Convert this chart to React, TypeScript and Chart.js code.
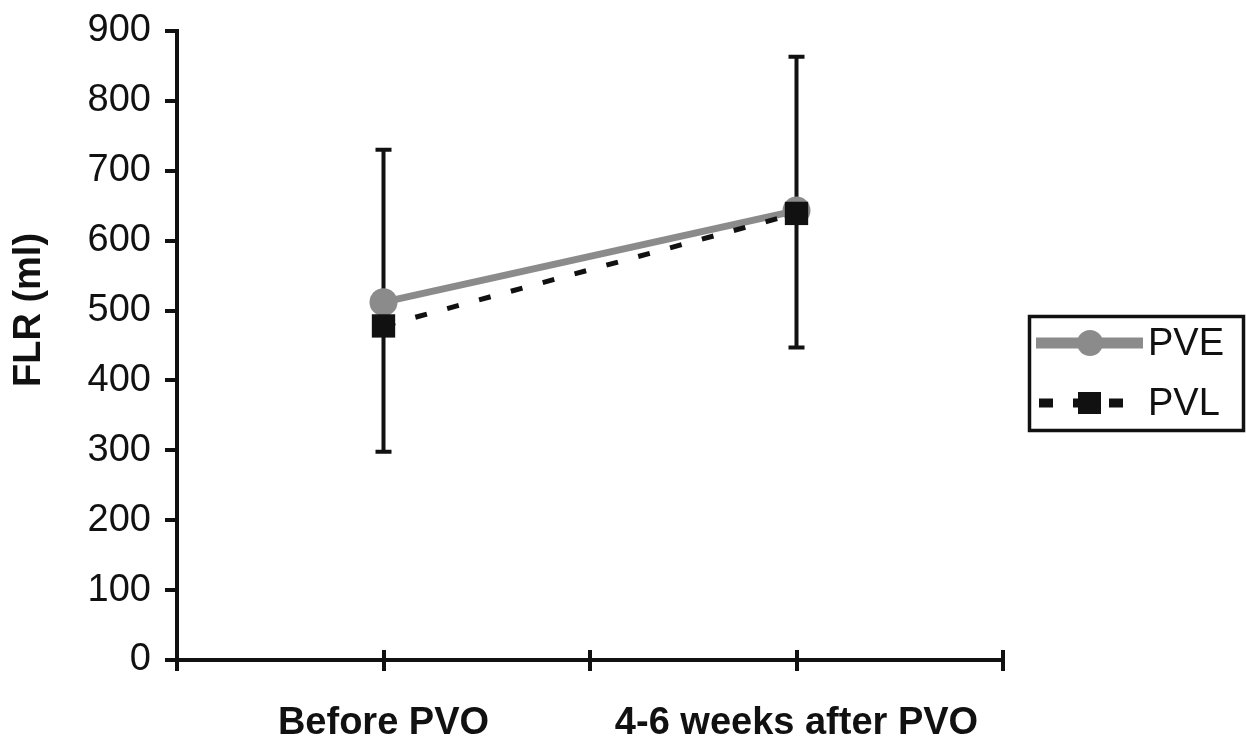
import React, { useEffect, useRef } from "react";
import { Chart, registerables } from "chart.js";

Chart.register(...registerables);

const categories = ["Before PVO", "4-6 weeks after PVO"];
const seriesNames = ["PVE", "PVL"];
const pveValues = [512, 643];
const pvlValues = [478, 639];
const errLow = [298, 447];
const errHigh = [730, 863];
const yTicksMin = 0;
const yTicksMax = 900;
const yStep = 100;
const yTitle = "FLR (ml)";

const FONT = "'Liberation Sans', Arial, Helvetica, sans-serif";
const GRAY = "#8b8b8b";
const BLACK = "#111111";

// category i sits at slot 2*i+1 on a 0..4 axis
const slot = (i: number) => 2 * i + 1;

const errorBarPlugin = {
  id: "errorBars",
  beforeDatasetsDraw(chart: any) {
    const { ctx, scales } = chart;
    const xs = scales.x;
    const ys = scales.y;
    ctx.save();
    ctx.strokeStyle = BLACK;
    ctx.lineWidth = 4;
    categories.forEach((_, i) => {
      const x = xs.getPixelForValue(slot(i));
      const yl = ys.getPixelForValue(errLow[i]);
      const yh = ys.getPixelForValue(errHigh[i]);
      ctx.beginPath();
      ctx.moveTo(x, yl);
      ctx.lineTo(x, yh);
      ctx.moveTo(x - 8, yl);
      ctx.lineTo(x + 8, yl);
      ctx.moveTo(x - 8, yh);
      ctx.lineTo(x + 8, yh);
      ctx.stroke();
    });
    ctx.restore();
  },
};

const extrasPlugin = {
  id: "extras",
  afterDraw(chart: any) {
    const { ctx, scales, chartArea } = chart;
    const xs = scales.x;
    ctx.save();
    // upper part of x tick marks (crossing the axis)
    ctx.strokeStyle = BLACK;
    ctx.lineWidth = 4;
    for (let v = 0; v <= 4; v++) {
      const x = Math.round(xs.getPixelForValue(v));
      ctx.beginPath();
      ctx.moveTo(x, chartArea.bottom - 10);
      ctx.lineTo(x, chartArea.bottom);
      ctx.stroke();
    }
    // y axis title
    ctx.save();
    ctx.translate(30, 310);
    ctx.rotate(-Math.PI / 2);
    ctx.font = `bold 38px ${FONT}`;
    ctx.fillStyle = BLACK;
    ctx.textAlign = "center";
    ctx.textBaseline = "middle";
    ctx.fillText(yTitle, 0, 0);
    ctx.restore();

    // legend
    const bx = 1029.5, by = 316.5, bw = 214, bh = 114;
    ctx.lineWidth = 3.5;
    ctx.strokeStyle = BLACK;
    ctx.strokeRect(bx, by, bw, bh);
    ctx.font = `38px ${FONT}`;
    ctx.textAlign = "left";
    ctx.textBaseline = "middle";
    ctx.fillStyle = BLACK;
    // PVE row
    const r1 = 343;
    ctx.strokeStyle = GRAY;
    ctx.lineWidth = 11;
    ctx.beginPath();
    ctx.moveTo(1036, r1);
    ctx.lineTo(1143, r1);
    ctx.stroke();
    ctx.fillStyle = GRAY;
    ctx.beginPath();
    ctx.arc(1090, r1, 13, 0, Math.PI * 2);
    ctx.fill();
    ctx.fillStyle = BLACK;
    ctx.fillText(seriesNames[0], 1148, r1 + 2);
    // PVL row
    const r2 = 403;
    ctx.fillStyle = BLACK;
    ctx.fillRect(1039, r2 - 4.5, 14, 9);
    ctx.fillRect(1073, r2 - 4.5, 8, 9);
    ctx.fillRect(1078, r2 - 11, 23, 22);
    ctx.fillRect(1109, r2 - 4.5, 14, 9);
    ctx.fillText(seriesNames[1], 1148, r2 + 2);
    ctx.restore();
  },
};

export default function App() {
  const ref = useRef<HTMLCanvasElement | null>(null);
  useEffect(() => {
    if (!ref.current) return;
    const chart = new Chart(ref.current, {
      type: "line",
      data: {
        datasets: [
          {
            label: seriesNames[0],
            data: pveValues.map((v, i) => ({ x: slot(i), y: v })),
            borderColor: GRAY,
            backgroundColor: GRAY,
            borderWidth: 7,
            pointStyle: "circle",
            pointRadius: 14,
            pointBorderWidth: 0,
            pointBackgroundColor: GRAY,
            order: 1,
          },
          {
            label: seriesNames[1],
            data: pvlValues.map((v, i) => ({ x: slot(i), y: v })),
            borderColor: BLACK,
            backgroundColor: BLACK,
            borderWidth: 5,
            borderDash: [12, 21],
            pointStyle: "rect",
            pointRadius: 16.5,
            pointBorderWidth: 0,
            pointBackgroundColor: BLACK,
            order: 0,
          },
        ],
      },
      options: {
        responsive: false,
        animation: false,
        events: [],
        layout: { padding: { left: 0, top: 31, right: 243, bottom: 0 } },
        plugins: { legend: { display: false }, tooltip: { enabled: false } },
        scales: {
          x: {
            type: "linear",
            min: 0,
            max: 4,
            afterFit: (s: any) => {
              s.height = 80;
              s.paddingLeft = 0;
              s.paddingRight = 0;
            },
            grid: {
              drawOnChartArea: false,
              drawTicks: true,
              tickLength: 11,
              lineWidth: 4,
              color: BLACK,
            },
            border: { display: true, color: BLACK, width: 4 },
            ticks: {
              stepSize: 1,
              autoSkip: false,
              maxRotation: 0,
              padding: 30,
              color: BLACK,
              font: { family: FONT, size: 38, weight: "bold" },
              callback: (v: any) => {
                const n = Number(v);
                if ((n - 1) % 2 === 0) return categories[(n - 1) / 2] ?? "";
                return "";
              },
            },
          },
          y: {
            min: yTicksMin,
            max: yTicksMax,
            afterFit: (s: any) => {
              s.width = 177;
              s.paddingTop = 0;
              s.paddingBottom = 0;
            },
            grid: {
              drawOnChartArea: false,
              drawTicks: true,
              tickLength: 12,
              lineWidth: 4,
              color: BLACK,
            },
            border: { display: true, color: BLACK, width: 4 },
            ticks: {
              stepSize: yStep,
              padding: 14,
              color: BLACK,
              font: { family: FONT, size: 38 },
            },
          },
        },
      } as any,
      plugins: [errorBarPlugin, extrasPlugin],
    });
    return () => chart.destroy();
  }, []);
  return (
    <div style={{ position: "absolute", left: 0, top: 0, width: 1246, height: 740, background: "#fff" }}>
      <canvas ref={ref} width={1246} height={740} style={{ width: 1246, height: 740, display: "block" }} />
    </div>
  );
}
